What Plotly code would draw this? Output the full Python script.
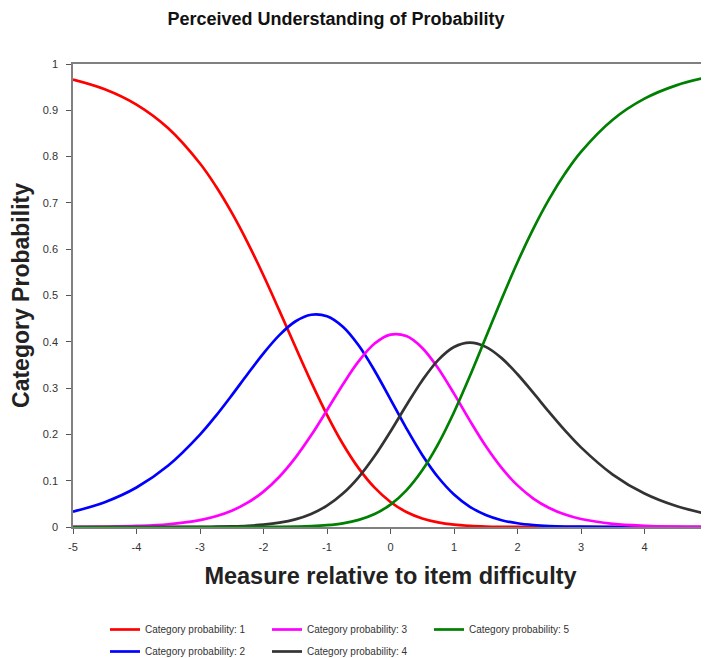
import plotly.graph_objects as go

# Measure relative to item difficulty (logits)
theta = [-5.0, -4.5, -4.0, -3.5, -3.0, -2.75, -2.5, -2.25, -2.0, -1.75, -1.5, -1.25, -1.0,
         -0.75, -0.5, -0.25, 0.0, 0.25, 0.5, 0.75, 1.0, 1.25, 1.5, 1.75, 2.0, 2.25, 2.5,
         2.75, 3.0, 3.5, 4.0, 4.5, 5.0]

# Category probability curves
cat1 = [0.9664, 0.9455, 0.9123, 0.8611, 0.7851, 0.7360, 0.6789, 0.6143, 0.5431, 0.4673, 0.3897,
        0.3135, 0.2424, 0.1794, 0.1266, 0.0849, 0.0540, 0.0325, 0.0185, 0.0100, 0.0051, 0.0025,
        0.0011, 0.0005, 0.0002, 0.0001, 0.0000, 0.0000, 0.0000, 0.0000, 0.0000, 0.0000, 0.0000]
cat2 = [0.0332, 0.0536, 0.0853, 0.1327, 0.1995, 0.2401, 0.2844, 0.3304, 0.3751, 0.4144, 0.4438,
        0.4585, 0.4552, 0.4325, 0.3919, 0.3376, 0.2757, 0.2131, 0.1557, 0.1075, 0.0703, 0.0437,
        0.0259, 0.0147, 0.0081, 0.0043, 0.0022, 0.0011, 0.0006, 0.0001, 0.0000, 0.0000, 0.0000]
cat3 = [0.0003, 0.0009, 0.0024, 0.0060, 0.0150, 0.0231, 0.0352, 0.0525, 0.0765, 0.1085, 0.1492,
        0.1979, 0.2523, 0.3079, 0.3582, 0.3962, 0.4155, 0.4123, 0.3867, 0.3430, 0.2880, 0.2297,
        0.1748, 0.1276, 0.0899, 0.0615, 0.0410, 0.0268, 0.0172, 0.0069, 0.0027, 0.0010, 0.0004]
cat4 = [0.0000, 0.0000, 0.0000, 0.0001, 0.0004, 0.0007, 0.0014, 0.0027, 0.0051, 0.0094, 0.0165,
        0.0282, 0.0461, 0.0722, 0.1079, 0.1532, 0.2063, 0.2629, 0.3166, 0.3605, 0.3888, 0.3982,
        0.3891, 0.3648, 0.3299, 0.2896, 0.2480, 0.2082, 0.1720, 0.1132, 0.0722, 0.0452, 0.0279]
cat5 = [0.0000, 0.0000, 0.0000, 0.0000, 0.0000, 0.0000, 0.0000, 0.0001, 0.0002, 0.0004, 0.0009,
        0.0019, 0.0040, 0.0080, 0.0154, 0.0280, 0.0484, 0.0792, 0.1225, 0.1790, 0.2479, 0.3260,
        0.4091, 0.4924, 0.5719, 0.6445, 0.7087, 0.7639, 0.8102, 0.8797, 0.9251, 0.9538, 0.9717]

series_names = ["Category probability: 1", "Category probability: 2", "Category probability: 3",
                "Category probability: 4", "Category probability: 5"]
series_values = [cat1, cat2, cat3, cat4, cat5]
series_colors = ["#ff0000", "#0000ff", "#ff00ff", "#333333", "#008000"]
series_legend = ["legend", "legend2", "legend", "legend2", "legend"]

x_tickvals = [-5, -4, -3, -2, -1, 0, 1, 2, 3, 4, 5]
x_ticktext = ["-5", "-4", "-3", "-2", "-1", "0", "1", "2", "3", "4", "5"]
y_tickvals = [0, 0.1, 0.2, 0.3, 0.4, 0.5, 0.6, 0.7, 0.8, 0.9, 1]
y_ticktext = ["0", "0.1", "0.2", "0.3", "0.4", "0.5", "0.6", "0.7", "0.8", "0.9", "1"]

FONT = "Liberation Sans, Arial, sans-serif"
W, H = 701, 650   # page is rendered with an 8px body margin

fig = go.Figure()
for name, vals, col, lg in zip(series_names, series_values, series_colors, series_legend):
    fig.add_trace(go.Scatter(
        x=theta, y=vals, mode="lines", name=name,
        line=dict(color=col, width=2.7, shape="spline", smoothing=1.0),
        legend=lg,
    ))

tickfont = dict(family=FONT, size=11, color="#333333")

fig.update_layout(
    width=W, height=H,
    paper_bgcolor="white", plot_bgcolor="white",
    margin=dict(l=65, r=1, t=56, b=131),
    font=dict(family=FONT, color="#222222"),
    title=dict(text="<b>Perceived Understanding of Probability</b>",
               x=328 / W, xanchor="center", xref="container",
               y=1 - 11 / H, yanchor="middle", yref="container",
               font=dict(family=FONT, size=18, color="#111111")),
    xaxis=dict(range=[-5, 5], tickvals=x_tickvals, ticktext=x_ticktext,
               showgrid=False, zeroline=False, linecolor="#808080", linewidth=1.5,
               mirror=True, automargin=False,
               ticks="outside", ticklen=5, tickwidth=1.2, tickcolor="#555555",
               ticklabelstandoff=4, ticklabeloverflow="allow", tickfont=tickfont,
               title=dict(text="<b>Measure relative to item difficulty</b>",
                          font=dict(family=FONT, size=23.5, color="#222222"), standoff=16)),
    yaxis=dict(range=[0, 1], tickvals=y_tickvals, ticktext=y_ticktext,
               showgrid=False, zeroline=False, linecolor="#808080", linewidth=1.5,
               automargin=False,
               ticks="outside", ticklen=5, tickwidth=1.2, tickcolor="#555555",
               ticklabelstandoff=6, ticklabeloverflow="allow", tickfont=tickfont,
               title=dict(text="<b>Category Probability</b>",
                          font=dict(family=FONT, size=23, color="#222222"), standoff=7)),
    # inner halves of the crossing tick marks
    xaxis2=dict(range=[-5, 5], tickvals=x_tickvals, overlaying="x", anchor="y",
                showgrid=False, zeroline=False, showline=False, showticklabels=False,
                ticks="inside", ticklen=4, tickwidth=1.2, tickcolor="#555555"),
    yaxis2=dict(range=[0, 1], tickvals=y_tickvals, overlaying="y", anchor="x",
                showgrid=False, zeroline=False, showline=False, showticklabels=False,
                ticks="inside", ticklen=4, tickwidth=1.2, tickcolor="#555555"),
    legend=dict(orientation="h", xref="container", yref="container",
                x=97 / W, y=1 - 607 / H, xanchor="left", yanchor="top",
                entrywidth=117, entrywidthmode="pixels", itemwidth=30,
                font=dict(family=FONT, size=10, color="#333333"),
                bgcolor="rgba(0,0,0,0)"),
    legend2=dict(orientation="h", xref="container", yref="container",
                 x=97 / W, y=1 - 629 / H, xanchor="left", yanchor="top",
                 entrywidth=117, entrywidthmode="pixels", itemwidth=30,
                 font=dict(family=FONT, size=10, color="#333333"),
                 bgcolor="rgba(0,0,0,0)"),
)

fig.write_html("out.html")
